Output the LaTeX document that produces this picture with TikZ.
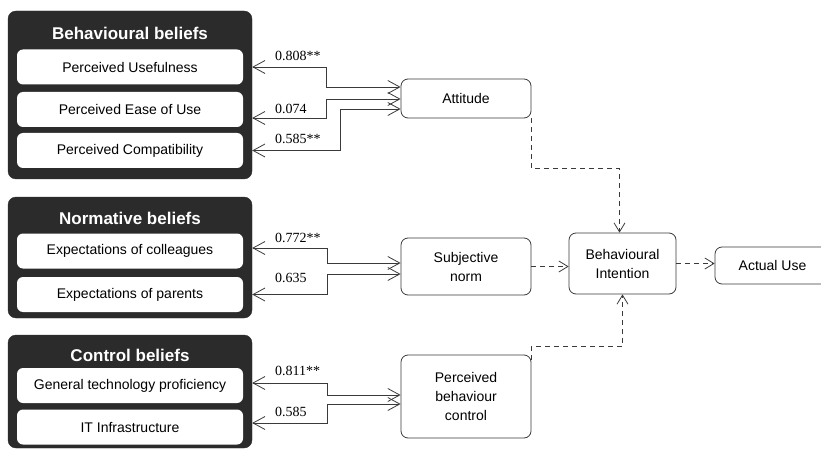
\documentclass[tikz,border=0pt]{standalone}
\usepackage{fontspec}
\setmainfont{Liberation Sans}
\newfontfamily\coeffont{Liberation Serif}
\usetikzlibrary{arrows.meta}
\definecolor{beliefgrey}{HTML}{2B2B2B}
\definecolor{edgegrey}{HTML}{3A3A3A}

\tikzset{
  belief/.style={draw=beliefgrey, fill=beliefgrey, rounded corners=8pt, inner sep=0pt},
  beliefhead/.style={text=white, inner sep=0pt, font=\fontsize{17}{20}\selectfont\bfseries},
  item/.style={fill=white, rounded corners=6pt, minimum width=226pt, minimum height=35pt,
    inner sep=0pt, font=\fontsize{14}{16}\selectfont},
  construct/.style={draw=edgegrey, line width=0.8pt, rounded corners=7pt, minimum width=130pt,
    align=center, inner sep=0pt, font=\fontsize{14}{19}\selectfont},
  coef/.style={anchor=west, inner sep=0pt, font=\coeffont\fontsize{14}{16}\selectfont},
  loading/.style={<->, >={Straight Barb[length=12pt,width=13pt]}, line width=0.8pt, edgegrey},
  effect/.style={->, >={Straight Barb[length=9pt,width=11pt]}, dash pattern=on 5pt off 4pt,
    line width=0.8pt, edgegrey}
}

\begin{document}
\begin{tikzpicture}[x=1pt,y=-1pt]
  \useasboundingbox (0,0) rectangle (821,449);
  %
  % Behavioural beliefs
  \node[belief, minimum width=244pt, minimum height=168pt] (bb) at (130,95) {};
  \node[beliefhead] (bbt) at (130,33) {Behavioural beliefs};
  \node[item] (pu) at (130,67) {Perceived Usefulness};
  \node[item] (peou) at (130,109.5) {Perceived Ease of Use};
  \node[item] (pc) at (130,150.5) {Perceived Compatibility};
  %
  % Normative beliefs
  \node[belief, minimum width=244pt, minimum height=121pt] (nb) at (130,257.5) {};
  \node[beliefhead] (nbt) at (130,218) {Normative beliefs};
  \node[item] (ec) at (130,251) {Expectations of colleagues};
  \node[item] (ep) at (130,294.5) {Expectations of parents};
  %
  % Control beliefs
  \node[belief, minimum width=244pt, minimum height=113pt] (cb) at (130,391.5) {};
  \node[beliefhead] (cbt) at (130,355) {Control beliefs};
  \node[item] (gtp) at (130,385.5) {General technology proficiency};
  \node[item] (iti) at (130,427) {IT Infrastructure};
  %
  % Constructs
  \node[construct, minimum height=39pt] (att) at (466,98.5) {Attitude};
  \node[construct, minimum height=57pt] (sn) at (466,266.5) {Subjective\\norm};
  \node[construct, minimum height=83pt] (pbc) at (466,396.5) {Perceived\\behaviour\\control};
  \node[construct, minimum width=107pt, minimum height=61pt] (bi) at (622.5,263.5) {Behavioural\\Intention};
  \node[construct, minimum width=115pt, minimum height=37pt] (au) at (772.5,265.5) {Actual Use};
  %
  % Loadings
  \draw[loading] (bb.east |- pu) -| (326,87) -- (att.west |- 0,87);
  \draw[loading] (bb.east |- 0,118) -| (326,99) -- (att.west |- 0,99);
  \draw[loading] (bb.east |- pc) -| (340,109) -- (att.west |- 0,109);
  \draw[loading] (nb.east |- 0,248) -| (327,263) -- (sn.west |- 0,263);
  \draw[loading] (nb.east |- ep) -| (327,274) -- (sn.west |- 0,274);
  \draw[loading] (cb.east |- 0,383) -| (327,395) -- (pbc.west |- 0,395);
  \draw[loading] (cb.east |- 0,423) -| (327,404) -- (pbc.west |- 0,404);
  %
  \node[coef] (w1) at (275,56) {0.808**};
  \node[coef] (w2) at (275,109) {0.074};
  \node[coef] (w3) at (275,139) {0.585**};
  \node[coef] (w4) at (275,238) {0.772**};
  \node[coef] (w5) at (275,278) {0.635};
  \node[coef] (w6) at (275,371) {0.811**};
  \node[coef] (w7) at (275,412) {0.585};
  %
  % Structural paths
  \draw[effect] (att.south east) -- ++(0,50) -| ([xshift=-3pt]bi.north);
  \draw[effect] (sn.east) -- (sn.east -| bi.west);
  \draw[effect] ([yshift=-5pt]pbc.north east) -- ++(0,-13) -| (bi.south);
  \draw[effect] (bi.east) -- (bi.east -| au.west);
  %
\end{tikzpicture}
\end{document}
